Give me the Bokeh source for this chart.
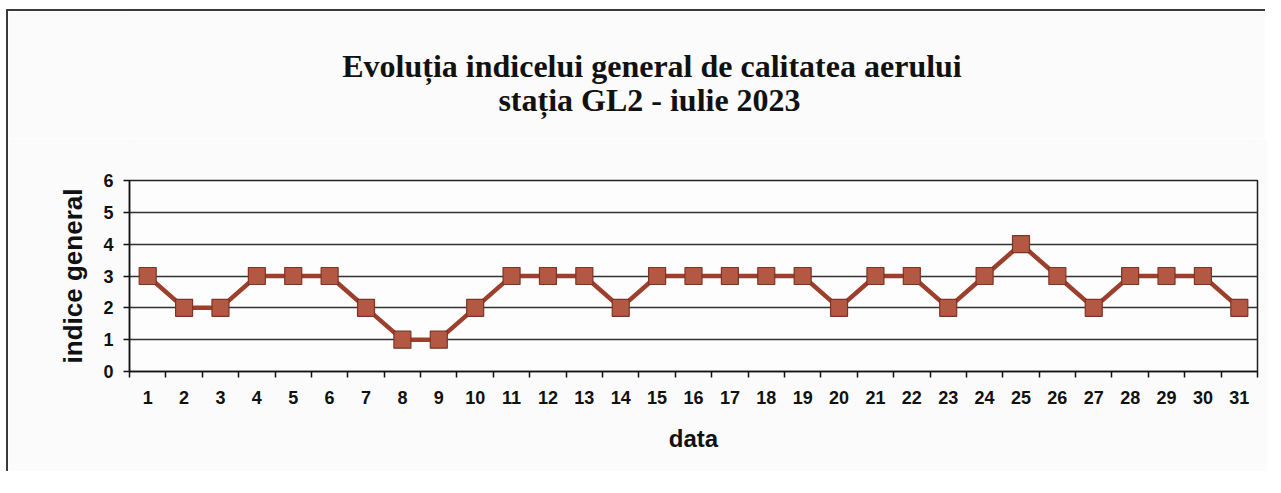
from bokeh.plotting import figure
from bokeh.models import FixedTicker, Range1d, Spacer
from bokeh.layouts import column, row
from bokeh.core.properties import value
from bokeh.embed import file_html
from bokeh.resources import INLINE

days = list(range(1, 32))
values = [3, 2, 2, 3, 3, 3, 2, 1, 1, 2, 3, 3, 3, 2, 3, 3, 3, 3, 3, 2,
          3, 3, 2, 3, 4, 3, 2, 3, 3, 3, 2]
y_ticks = [0, 1, 2, 3, 4, 5, 6]
title_1 = "Evoluția indicelui general de calitatea aerului"
title_2 = "stația GL2 -  iulie 2023"

FRAME_W = 1126
LEFT = 121
RIGHT = 12
W = LEFT + FRAME_W + RIGHT
HEAD_H = 129
BG = "#fbfbfb"

# ---- title area (its frame is aligned with the chart frame by the column) ----
head = figure(width=W, height=HEAD_H, output_backend="svg", toolbar_location=None,
              x_range=Range1d(0, FRAME_W), y_range=Range1d(0, HEAD_H),
              min_border=0, min_border_left=0, min_border_right=0,
              min_border_top=0, min_border_bottom=0)
head.axis.visible = False
head.grid.visible = False
head.outline_line_color = None
head.background_fill_color = BG
head.border_fill_color = BG
head.styles = {"border-left": "2px solid #3a3a3a", "border-top": "2px solid #3a3a3a"}
head.text(x=[522.5, 524], y=[75, 41], text=[title_1, title_2],
          text_align="center", text_baseline="middle",
          text_font=value("Liberation Serif"), text_font_style="bold",
          text_font_size="32px", text_color="#111111")

# ---- chart ----
p = figure(width=W, height=333, output_backend="svg", toolbar_location=None,
           x_range=Range1d(0.5, 31.5), y_range=Range1d(0, 6),
           frame_width=FRAME_W, frame_height=191,
           min_border_left=LEFT, min_border_top=42, min_border_bottom=100, min_border_right=RIGHT)
p.styles = {"border-left": "2px solid #3a3a3a"}
p.background_fill_color = "#fdfdfd"
p.border_fill_color = BG
p.outline_line_color = "#222222"
p.outline_line_width = 1.5

p.xgrid.grid_line_color = None
p.ygrid.grid_line_color = "#333333"
p.ygrid.grid_line_width = 1.3
p.yaxis.ticker = FixedTicker(ticks=y_ticks)
p.xaxis.ticker = FixedTicker(ticks=days, minor_ticks=[d - 0.5 for d in days] + [31.5])

for ax in (p.xaxis[0], p.yaxis[0]):
    ax.axis_line_color = "#111111"
    ax.axis_line_width = 1.5
    ax.major_label_text_font = "Liberation Sans"
    ax.major_label_text_font_style = "bold"
    ax.major_label_text_font_size = "18px"
    ax.major_label_text_color = "#111111"
    ax.axis_label_text_font = "Liberation Sans"
    ax.axis_label_text_font_style = "bold"
    ax.axis_label_text_color = "#111111"

p.xaxis.axis_label_text_font_size = "24px"
p.yaxis.axis_label_text_font_size = "26px"

p.xaxis.major_tick_out = 0
p.xaxis.major_tick_in = 0
p.xaxis.minor_tick_out = 6
p.xaxis.minor_tick_in = 0
p.xaxis.minor_tick_line_color = "#111111"
p.xaxis.minor_tick_line_width = 1.5
p.xaxis.major_label_standoff = 13
p.xaxis.axis_label = "data"
p.xaxis.axis_label_standoff = 18

p.yaxis.major_tick_out = 6
p.yaxis.major_tick_in = 0
p.yaxis.major_tick_line_color = "#111111"
p.yaxis.major_tick_line_width = 1.5
p.yaxis.minor_tick_line_color = None
p.yaxis.major_label_standoff = 10
p.yaxis.axis_label = "indice general"
p.yaxis.axis_label_standoff = 12

p.line(days, values, line_color="#9c3f2c", line_width=4.5)
p.scatter(days, values, marker="square", size=17, fill_color="#b25843",
          line_color="#7f3324", line_width=1.2)

layout = row(Spacer(width=6), column(Spacer(height=9), head, p, spacing=0), spacing=0)

open("out.html", "w").write(file_html(layout, INLINE))
